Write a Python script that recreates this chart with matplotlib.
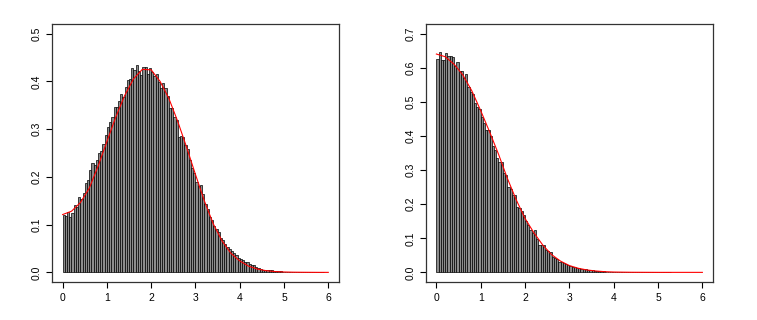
import matplotlib
matplotlib.use("Agg")
import matplotlib.pyplot as plt
import numpy as np

plt.rcParams['font.family'] = ['Liberation Sans', 'DejaVu Sans']

# ancho de cada barra del histograma
ancho = 0.05

# alturas del histograma izquierdo (densidad), de 0 a 5.9
barras1 = [0.121, 0.118, 0.126, 0.115, 0.125, 0.140, 0.137, 0.158, 0.154, 0.166,
           0.187, 0.194, 0.214, 0.228, 0.225, 0.235, 0.249, 0.255, 0.269, 0.288,
           0.304, 0.314, 0.326, 0.346, 0.346, 0.358, 0.373, 0.368, 0.388, 0.402,
           0.405, 0.427, 0.423, 0.435, 0.422, 0.413, 0.429, 0.429, 0.415, 0.427,
           0.419, 0.411, 0.416, 0.399, 0.387, 0.396, 0.385, 0.370, 0.345, 0.345,
           0.326, 0.319, 0.284, 0.286, 0.284, 0.267, 0.258, 0.235, 0.218, 0.207,
           0.189, 0.180, 0.182, 0.164, 0.144, 0.133, 0.116, 0.109, 0.098, 0.091,
           0.084, 0.072, 0.067, 0.060, 0.053, 0.049, 0.044, 0.040, 0.037, 0.030,
           0.027, 0.026, 0.022, 0.022, 0.018, 0.016, 0.015, 0.011, 0.009, 0.008,
           0.006, 0.006, 0.005, 0.005, 0.005, 0.0035, 0.003, 0.002, 0.002, 0.0015,
           0.0012, 0.001, 0.0012, 0.0008, 0.0006, 0.0007, 0.0005, 0.0004, 0.0005, 0.0003,
           0.0002, 0.0003, 0.0002, 0.0001, 0.0002, 0.0001, 0.0001, 0.0001]

# alturas del histograma derecho, de 0 a 5.3
barras2 = [0.625, 0.646, 0.622, 0.622, 0.643, 0.633, 0.635, 0.630, 0.605, 0.617,
           0.589, 0.589, 0.571, 0.580, 0.543, 0.530, 0.523, 0.496, 0.486, 0.479,
           0.454, 0.439, 0.417, 0.417, 0.399, 0.371, 0.360, 0.334, 0.324, 0.324,
           0.292, 0.285, 0.250, 0.245, 0.228, 0.228, 0.191, 0.189, 0.179, 0.169,
           0.152, 0.140, 0.123, 0.116, 0.123, 0.098, 0.081, 0.079, 0.081, 0.066,
           0.062, 0.059, 0.046, 0.042, 0.039, 0.031, 0.029, 0.027, 0.0255, 0.021,
           0.018, 0.016, 0.0147, 0.012, 0.012, 0.010, 0.011, 0.010, 0.007, 0.006,
           0.0055, 0.005, 0.004, 0.0035, 0.003, 0.0028, 0.0022, 0.002, 0.0016, 0.0014,
           0.0012, 0.001, 0.0009, 0.0007, 0.0008, 0.0006, 0.0005, 0.0004, 0.0005, 0.0003,
           0.0003, 0.0002, 0.0003, 0.0002, 0.0001, 0.0002, 0.0001, 0.0001, 0.0001, 0.0001,
           0.0001, 0.0001, 0.0001, 0.0001, 0.0001, 0.0001]

# curvas rojas (densidad teorica), leidas cada 0.2
xcurva = [0.0, 0.2, 0.4, 0.6, 0.8, 1.0, 1.2, 1.4, 1.6, 1.8, 2.0, 2.2, 2.4, 2.6, 2.8, 3.0,
          3.2, 3.4, 3.6, 3.8, 4.0, 4.2, 4.4, 4.6, 4.8, 5.0, 5.2, 5.4, 5.6, 5.8, 6.0]
curva1 = [0.121, 0.128, 0.146, 0.176, 0.222, 0.274, 0.325, 0.370, 0.405, 0.425, 0.424,
          0.400, 0.364, 0.316, 0.262, 0.205, 0.150, 0.102, 0.066, 0.040, 0.024,
          0.013, 0.007, 0.0035, 0.0017, 0.0008, 0.0004, 0.0002, 0.0001, 0.0, 0.0]
curva2 = [0.640, 0.632, 0.610, 0.578, 0.532, 0.474, 0.412, 0.347, 0.276, 0.213, 0.158,
          0.116, 0.080, 0.052, 0.033, 0.020, 0.012, 0.007, 0.004, 0.002, 0.001,
          0.0006, 0.0003, 0.0002, 0.0001, 0.0, 0.0, 0.0, 0.0, 0.0, 0.0]

xticks = [0, 1, 2, 3, 4, 5, 6]
yticks1 = [0.0, 0.1, 0.2, 0.3, 0.4, 0.5]
yticks2 = [0.0, 0.1, 0.2, 0.3, 0.4, 0.5, 0.6, 0.7]


def dibujar(ax, barras, curva, yticks):
    bordes = np.arange(len(barras)) * ancho
    ax.bar(bordes, barras, width=ancho, align='edge', color='#8c8c8c',
           edgecolor='black', linewidth=0.5)
    ax.plot(xcurva, curva, color='red', linewidth=0.8)
    ymax = yticks[-1]
    ax.set_xlim(-0.24, 6.24)
    ax.set_ylim(-0.04 * ymax, ymax * 1.04)
    ax.set_xticks(xticks)
    ax.set_xticklabels([str(t) for t in xticks])
    ax.set_yticks(yticks)
    ax.set_yticklabels(['%.1f' % t for t in yticks], rotation=90, va='center')
    ax.tick_params(direction='out', length=4.3, width=0.8, labelsize=7.5, pad=3)
    ax.tick_params(axis='x', pad=4)
    for s in ax.spines.values():
        s.set_color('#333333')
        s.set_linewidth(0.9)


fig = plt.figure(figsize=(7.57, 3.2), dpi=100)
ax1 = fig.add_axes([0.0687, 0.119, 0.379, 0.806])
ax2 = fig.add_axes([0.5624, 0.119, 0.3795, 0.806])

dibujar(ax1, barras1, curva1, yticks1)
dibujar(ax2, barras2, curva2, yticks2)

fig.savefig('out.png', dpi=100)
